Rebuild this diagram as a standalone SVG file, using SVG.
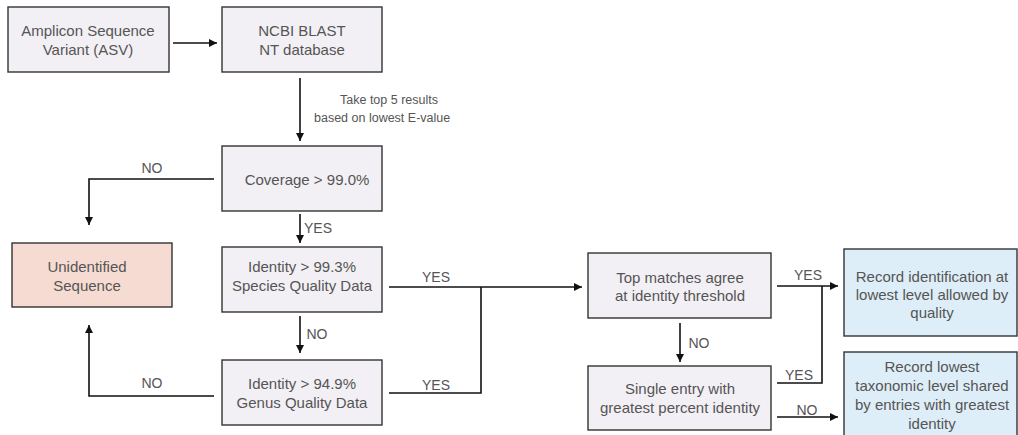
<svg xmlns="http://www.w3.org/2000/svg" width="1018" height="435" viewBox="0 0 1018 435">
<defs>
<marker id="arr" viewBox="0 0 10 10" refX="10" refY="5" markerWidth="8" markerHeight="8" markerUnits="userSpaceOnUse" orient="auto">
<path d="M0,0 L10,5 L0,10 z" fill="#111"/>
</marker>
<style>
.box{stroke:#333;stroke-width:1.4}
.g{fill:#f2f0f4}
.b{fill:#deeef8}
.p{fill:#f5dbd1}
text{font-family:"Liberation Sans",Arial,sans-serif;fill:#555}
.t{font-size:15px;text-anchor:middle}
.l{font-size:14px;text-anchor:middle}
.s{font-size:12.5px}
.c{fill:none;stroke:#111;stroke-width:1.6}
</style>
</defs>
<rect width="1018" height="435" fill="#fff"/>
<g id="asv"><rect class="box g" x="8" y="7" width="161" height="65"/><text class="t" x="88" y="36">Amplicon Sequence</text><text class="t" x="88" y="55">Variant (ASV)</text></g>
<g id="ncbi"><rect class="box g" x="222" y="7" width="160" height="65"/><text class="t" x="302" y="36">NCBI BLAST</text><text class="t" x="302" y="55">NT database</text></g>
<g id="coverage"><rect class="box g" x="222" y="146" width="160" height="65"/><text class="t" x="307" y="185">Coverage &gt; 99.0%</text></g>
<g id="unidentified"><rect class="box p" x="12" y="243" width="160" height="64"/><text class="t" x="87" y="272">Unidentified</text><text class="t" x="87" y="291">Sequence</text></g>
<g id="species"><rect class="box g" x="222" y="247" width="160" height="65"/><text class="t" x="302" y="272">Identity &gt; 99.3%</text><text class="t" x="302" y="291">Species Quality Data</text></g>
<g id="genus"><rect class="box g" x="222" y="360" width="160" height="65"/><text class="t" x="302" y="389">Identity &gt; 94.9%</text><text class="t" x="302" y="408">Genus Quality Data</text></g>
<g id="topmatch"><rect class="box g" x="588" y="253" width="183" height="65"/><text class="t" x="680" y="283">Top matches agree</text><text class="t" x="680" y="301">at identity threshold</text></g>
<g id="single"><rect class="box g" x="588" y="366" width="183" height="64"/><text class="t" x="680" y="394">Single entry with</text><text class="t" x="680" y="413">greatest percent identity</text></g>
<g id="record1"><rect class="box b" x="844" y="249" width="173" height="87"/><text class="t" x="932" y="282">Record identification at</text><text class="t" x="932" y="300">lowest level allowed by</text><text class="t" x="932" y="318">quality</text></g>
<g id="record2"><rect class="box b" x="844" y="352" width="173" height="90"/><text class="t" x="932" y="372">Record lowest</text><text class="t" x="932" y="391">taxonomic level shared</text><text class="t" x="932" y="410">by entries with greatest</text><text class="t" x="932" y="429">identity</text></g>
<g id="connectors">
<path class="c" d="M173,43 H217" marker-end="url(#arr)"/>
<path class="c" d="M300,78 V141" marker-end="url(#arr)"/>
<path class="c" d="M214,179 H89 V225" marker-end="url(#arr)"/>
<path class="c" d="M300,214 V243" marker-end="url(#arr)"/>
<path class="c" d="M389,287 H582" marker-end="url(#arr)"/>
<path class="c" d="M300,316 V353" marker-end="url(#arr)"/>
<path class="c" d="M214,396 H89 V325" marker-end="url(#arr)"/>
<path class="c" d="M389,393 H481 V287"/>
<path class="c" d="M777,286 H838" marker-end="url(#arr)"/>
<path class="c" d="M680,323 V362" marker-end="url(#arr)"/>
<path class="c" d="M777,383 H822 V286"/>
<path class="c" d="M777,417 H838" marker-end="url(#arr)"/>
<text class="s" x="340" y="104">Take top 5 results</text>
<text class="s" x="314" y="122">based on lowest E-value</text>
<text class="l" x="152" y="173">NO</text>
<text class="l" x="318" y="233">YES</text>
<text class="l" x="317" y="339">NO</text>
<text class="l" x="152" y="388">NO</text>
<text class="l" x="436" y="282">YES</text>
<text class="l" x="436" y="390">YES</text>
<text class="l" x="699" y="348">NO</text>
<text class="l" x="808" y="280">YES</text>
<text class="l" x="799" y="380">YES</text>
<text class="l" x="807" y="415">NO</text>
</g>
</svg>
